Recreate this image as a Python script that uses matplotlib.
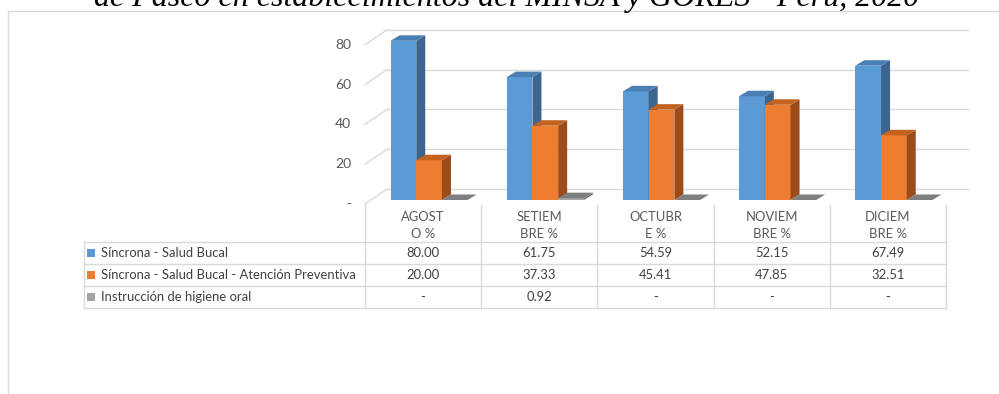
import matplotlib.pyplot as plt
from matplotlib.patches import Polygon, Rectangle
from matplotlib.lines import Line2D

# data
meses = ["AGOST\nO %", "SETIEM\nBRE %", "OCTUBR\nE %", "NOVIEM\nBRE %", "DICIEM\nBRE %"]
series = ["Síncrona - Salud Bucal",
          "Síncrona - Salud Bucal - Atención Preventiva",
          "Instrucción de higiene oral"]
sincrona = [80.00, 61.75, 54.59, 52.15, 67.49]
preventiva = [20.00, 37.33, 45.41, 47.85, 32.51]
higiene = [0, 0.92, 0, 0, 0]
yticks = [0, 20, 40, 60, 80]
titulo = "de Pasco en establecimientos del MINSA y GORES - Perú, 2020"

# face colours: front, top, side
colores = [("#5B9BD5", "#4A7FB4", "#3C6590"),
           ("#ED7D31", "#C4621F", "#9A4C1C"),
           ("#A5A5A5", "#7F7F7F", "#6E6E6E")]

W, H = 999, 394
fig = plt.figure(figsize=(W / 100, H / 100), dpi=100)
plt.rcParams['font.family'] = ['Lato', 'DejaVu Sans']

# px per unit on the bar plane
sx = 581 / 5      # per category
sy = 1.99         # per value unit
ax = fig.add_axes([371 / W, (H - 200) / H, 581 / W, 80 * sy / H])
ax.set_xlim(-0.5, 4.5)
ax.set_ylim(0, 80)
ax.axis("off")

def off(px, py):
    # pixel offset -> data offset
    return px / sx, py / sy

bdx, bdy = off(16, 11)     # back wall
fdx, fdy = off(-6, -4)     # front edge of floor
ddx, ddy = off(9, 5.5)     # bar depth
grid_c = "#D9D9D9"

# back wall gridlines and side wall lines
for v in yticks:
    ax.plot([-0.5 + bdx, 4.5 + bdx], [v + bdy, v + bdy], color=grid_c, lw=1, clip_on=False, zorder=1)
    ax.plot([-0.5 + fdx, -0.5 + bdx], [v + fdy, v + bdy], color=grid_c, lw=1, clip_on=False, zorder=1)
    ax.text(-0.5 + fdx - 14 / sx, v + fdy, "-" if v == 0 else str(v), ha="right", va="center",
            fontsize=10, color="#595959")

# bars with a 3D look
bw = 25.7 / sx
valores = [sincrona, preventiva, higiene]
for i in range(len(meses)):
    for j, vals in enumerate(valores):
        x0 = i + (j - 1) * bw - bw / 2
        x1 = x0 + bw
        h = vals[i]
        front, top, side = colores[j]
        z = 2 + i * 3 + j
        ax.add_patch(Rectangle((x0, 0), bw, h, facecolor=front, edgecolor="none", zorder=z, clip_on=False))
        ax.add_patch(Polygon([(x1, 0), (x1 + ddx, ddy), (x1 + ddx, h + ddy), (x1, h)],
                             facecolor=side, edgecolor="none", zorder=z, clip_on=False))
        ax.add_patch(Polygon([(x0, h), (x1, h), (x1 + ddx, h + ddy), (x0 + ddx, h + ddy)],
                             facecolor=top, edgecolor="none", zorder=z, clip_on=False))

# data table below the chart
tax = fig.add_axes([365 / W, (H - 308) / H, 581 / W, 66 / H])
tax.set_xlim(-0.5, 4.5)
tax.set_ylim(3, 0)
tax.axis("off")
rpx = 22
xl = -0.5 - (365 - 84) / sx
ytop = -(242 - 205) / rpx
line_c = "#D9D9D9"
for r in range(4):
    tax.add_line(Line2D([xl, 4.5], [r, r], color=line_c, lw=1, clip_on=False))
for k in range(6):
    tax.add_line(Line2D([k - 0.5, k - 0.5], [ytop, 3], color=line_c, lw=1, clip_on=False))
tax.add_line(Line2D([xl, xl], [0, 3], color=line_c, lw=1, clip_on=False))

fs = 9.4
for i, m in enumerate(meses):
    tax.text(i, ytop / 2 + 0.1, m, ha="center", va="center", fontsize=fs, color="#595959",
             linespacing=1.45)
for r, (nombre, vals) in enumerate(zip(series, valores)):
    tax.add_patch(Rectangle((xl + 3 / sx, r + 0.5 - 4 / rpx), 8 / sx, 8 / rpx,
                            facecolor=colores[r][0], edgecolor="none", clip_on=False))
    tax.text(xl + 17 / sx, r + 0.5, nombre, ha="left", va="center", fontsize=fs, color="#404040")
    for i, v in enumerate(vals):
        tax.text(i, r + 0.5, "-" if v == 0 else f"{v:.2f}", ha="center", va="center",
                 fontsize=fs, color="#404040")

# outer chart frame and title (cut at the top edge, as in the source)
fig.add_artist(Line2D([8 / W, 8 / W], [0, (H - 11) / H], color=grid_c, lw=1))
fig.add_artist(Line2D([8 / W, 1], [(H - 11) / H, (H - 11) / H], color=grid_c, lw=1))
fig.text(507 / W, (H - 6) / H, titulo, ha="center", va="baseline", fontsize=23,
         family="Liberation Serif", style="italic", color="black")

fig.savefig("out.png", dpi=100)
